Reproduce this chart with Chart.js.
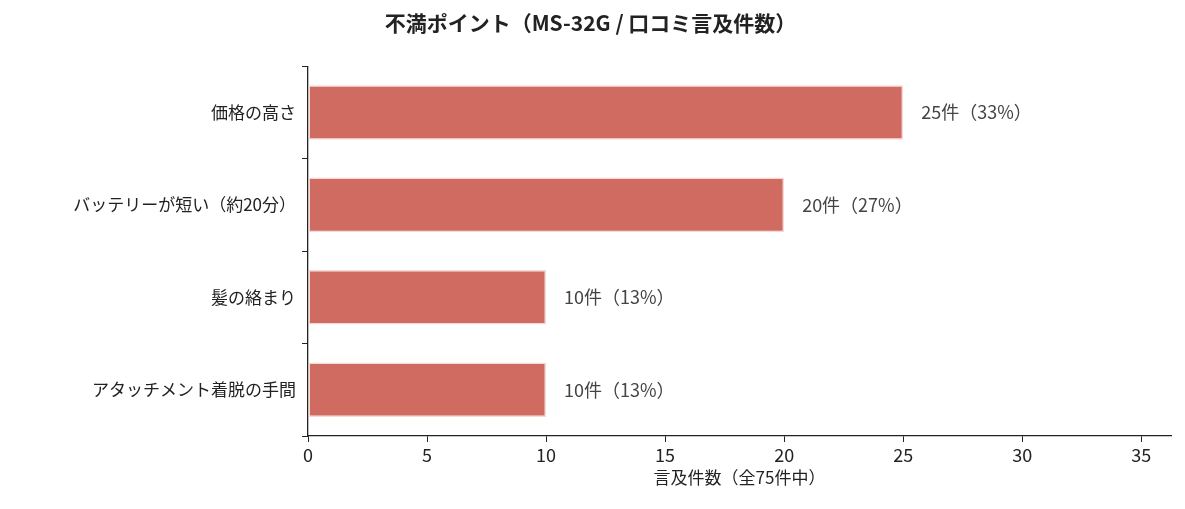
<!DOCTYPE html>
<html>
<head>
<meta charset="utf-8">
<script src="https://cdn.jsdelivr.net/npm/chart.js@4/dist/chart.umd.min.js"></script>
<style>
  html, body { margin: 0; padding: 0; background: #fff; }
  #wrap { width: 1185px; height: 509px; }
</style>
</head>
<body>
<div id="wrap"><canvas id="c"></canvas></div>
<script>
const categories = ['価格の高さ', 'バッテリーが短い（約20分）', '髪の絡まり', 'アタッチメント着脱の手間'];
const counts = [25, 20, 10, 10];
const shareLabels = ['25件（33%）', '20件（27%）', '10件（13%）', '10件（13%）'];
const xTicks = [0, 5, 10, 15, 20, 25, 30, 35];

const FONT = '"Noto Sans CJK JP", "Noto Sans", sans-serif';

// value labels to the right of each bar
const valueLabels = {
  id: 'valueLabels',
  afterDatasetsDraw(chart) {
    const ctx = chart.ctx;
    const meta = chart.getDatasetMeta(0);
    ctx.save();
    ctx.font = '18px ' + FONT;
    ctx.fillStyle = '#444';
    ctx.textBaseline = 'middle';
    meta.data.forEach((bar, i) => {
      ctx.fillText(shareLabels[i], bar.x + 18, bar.y);
    });
    ctx.restore();
  }
};

new Chart(document.getElementById('c'), {
  type: 'bar',
  data: {
    labels: categories,
    datasets: [{
      data: counts,
      backgroundColor: '#d06b61',
      borderColor: '#f6d9d5',
      borderWidth: 1.5,
      borderSkipped: false,
      barPercentage: 0.59,
      categoryPercentage: 1
    }]
  },
  options: {
    indexAxis: 'y',
    responsive: true,
    maintainAspectRatio: false,
    animation: false,
    layout: { padding: { top: 10, right: 14, bottom: 17, left: 10 } },
    plugins: {
      legend: { display: false },
      tooltip: { enabled: false },
      title: {
        display: true,
        text: '不満ポイント（MS-32G / 口コミ言及件数）',
        color: '#222',
        font: { family: FONT, size: 21, weight: 'bold' },
        padding: { top: 0, bottom: 31 }
      }
    },
    scales: {
      x: {
        min: 0, max: 36.25,
        afterBuildTicks(axis) { axis.ticks = xTicks.map(v => ({ value: v })); },
        grid: { display: true, drawOnChartArea: false, drawTicks: true, tickLength: 6, tickColor: '#222' },
        border: { color: '#222', width: 1.3 },
        ticks: { color: '#222', font: { family: FONT, size: 18 }, padding: 2 },
        title: {
          display: true, text: '言及件数（全75件中）', color: '#222',
          font: { family: FONT, size: 17 }, padding: { top: 0 }
        }
      },
      y: {
        offset: true,
        afterFit(axis) { axis.width = 298; },
        grid: { display: true, drawOnChartArea: false, drawTicks: true, tickLength: 6, tickColor: '#222' },
        border: { color: '#222', width: 1.3 },
        ticks: { color: '#222', font: { family: FONT, size: 17 }, padding: 6 }
      }
    }
  },
  plugins: [valueLabels]
});
</script>
</body>
</html>
